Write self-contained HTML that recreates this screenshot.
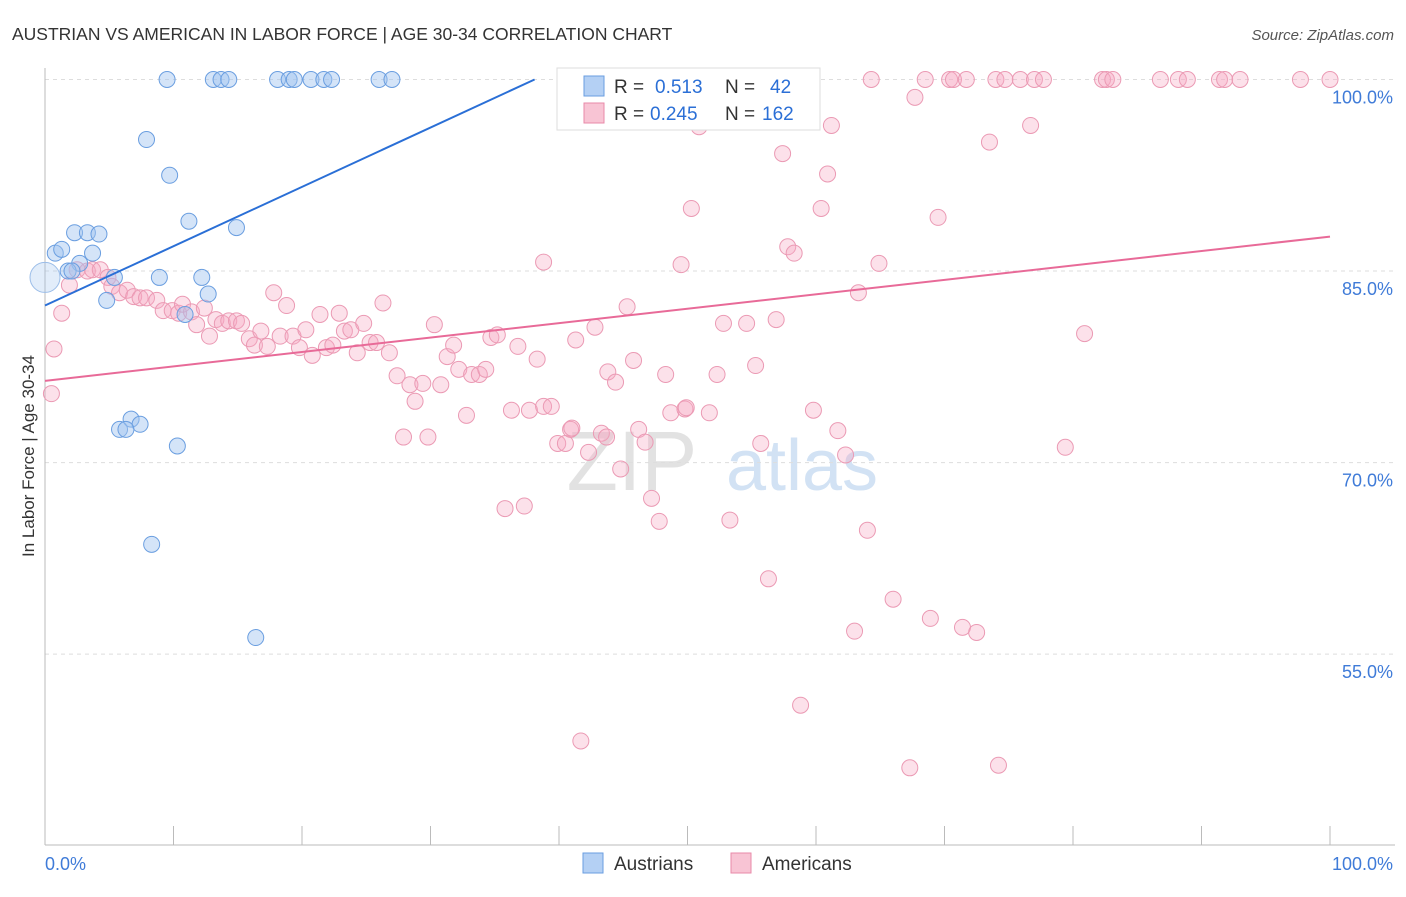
<!DOCTYPE html>
<html><head><meta charset="utf-8"><style>
body{margin:0;background:#fff;font-family:"Liberation Sans",sans-serif;}
svg text{font-family:"Liberation Sans",sans-serif;}
</style></head><body>
<svg id="chart" width="1406" height="892" xmlns="http://www.w3.org/2000/svg">
<text x="12" y="40" font-size="17.5" fill="#333">AUSTRIAN VS AMERICAN IN LABOR FORCE | AGE 30-34 CORRELATION CHART</text>
<text x="1394" y="40" font-size="15" fill="#555" font-style="italic" text-anchor="end">Source: ZipAtlas.com</text>
<text x="34" y="456" font-size="17" fill="#333" text-anchor="middle" transform="rotate(-90 34 456)">In Labor Force | Age 30-34</text>
<g><text x="632" y="490" font-size="84" fill="#e2e2e2" font-family="Liberation Serif" text-anchor="middle">ZIP</text><text x="802" y="490" font-size="72" fill="#d2e2f4" text-anchor="middle">atlas</text></g>
<g id="grid"></g><g id="axes"></g><g id="pts"></g><g id="trend"></g>
<g>
<rect x="557" y="68" width="263" height="62" fill="#fff" stroke="#ddd"/>
<rect x="584" y="76" width="20" height="20" fill="#b4d0f4" stroke="#6a9ee0"/>
<rect x="584" y="103" width="20" height="20" fill="#f8c4d4" stroke="#e88aa8"/>
<text x="614" y="93" font-size="19" fill="#333">R =</text>
<text x="655" y="93" font-size="19" fill="#2b6fd6">0.513</text>
<text x="725" y="93" font-size="19" fill="#333">N =</text>
<text x="770" y="93" font-size="19" fill="#2b6fd6">42</text>
<text x="614" y="120" font-size="19" fill="#333">R =</text>
<text x="650" y="120" font-size="19" fill="#2b6fd6">0.245</text>
<text x="725" y="120" font-size="19" fill="#333">N =</text>
<text x="762" y="120" font-size="19" fill="#2b6fd6">162</text>
</g>
<g>
<rect x="583" y="853" width="20" height="20" fill="#b4d0f4" stroke="#6a9ee0"/>
<text x="614" y="870" font-size="19" fill="#333">Austrians</text>
<rect x="731" y="853" width="20" height="20" fill="#f8c4d4" stroke="#e88aa8"/>
<text x="762" y="870" font-size="19" fill="#333">Americans</text>
</g>
</svg>
<script>
const blueX=[9.5,13.1,13.7,14.3,18.1,19.0,19.4,20.7,21.7,22.3,26.0,27.0,40.9,52.4,7.9,9.7,11.2,14.9,0.8,1.3,2.3,3.3,4.2,3.7,2.7,1.8,2.1,5.4,8.9,12.2,12.7,4.8,10.9,6.7,7.4,5.8,6.3,10.3,8.3,16.4];
const blueY=[100,100,100,100,100,100,100,100,100,100,100,100,100,100,95.3,92.5,88.9,88.4,86.4,86.7,88.0,88.0,87.9,86.4,85.6,85.0,85.0,84.5,84.5,84.5,83.2,82.7,81.6,73.4,73.0,72.6,72.6,71.3,63.6,56.3];
const pinkX=[54.1,59.1,64.3,68.5,70.4,70.7,71.7,74.0,74.7,75.9,77.0,77.7,82.3,82.6,83.1,86.8,88.2,88.9,91.4,91.8,93.0,97.7,100,
67.7,50.9,61.2,76.7,73.5,57.4,60.9,50.3,60.4,69.5,57.8,58.3,38.8,49.5,64.9,63.3,80.9,79.4,
0.7,0.5,1.3,1.9,2.5,3.3,3.7,4.3,4.9,5.2,5.8,6.4,6.9,7.4,7.9,8.7,9.2,9.9,10.4,10.7,11.4,11.8,12.4,12.8,13.3,13.8,14.3,14.9,15.3,15.9,16.3,16.8,17.3,17.8,18.3,18.8,19.3,19.8,20.3,20.8,21.4,21.9,22.4,22.9,23.3,23.8,24.3,24.8,25.3,25.8,26.3,26.8,27.4,27.9,28.4,28.8,29.4,29.8,30.3,30.8,31.3,31.8,32.2,32.8,33.2,33.8,34.3,34.7,35.2,35.8,36.3,36.8,37.3,37.7,38.3,38.8,39.4,39.9,40.5,40.9,41.3,41.7,42.3,42.8,43.3,43.8,44.4,44.8,45.3,45.8,46.2,46.7,47.2,47.8,48.3,48.7,49.8,51.7,52.3,52.8,53.3,54.6,55.3,55.7,56.3,56.9,58.8,59.8,61.7,62.3,63.0,64.0,66.0,67.3,68.9,71.4,72.5,74.2,43.7,41.0,49.9];
const pinkY=[100,100,100,100,100,100,100,100,100,100,100,100,100,100,100,100,100,100,100,100,100,100,100,
98.6,96.3,96.4,96.4,95.1,94.2,92.6,89.9,89.9,89.2,86.9,86.4,85.7,85.5,85.6,83.3,80.1,71.2,
78.9,75.4,81.7,83.9,85.1,85.0,85.1,85.1,84.5,83.8,83.3,83.5,83.0,82.9,82.9,82.7,81.9,81.9,81.7,82.4,81.8,80.8,82.1,79.9,81.2,80.9,81.1,81.1,80.9,79.7,79.2,80.3,79.1,83.3,79.9,82.3,79.9,79.0,80.4,78.4,81.6,79.0,79.2,81.7,80.3,80.4,78.6,80.9,79.4,79.4,82.5,78.6,76.8,72.0,76.1,74.8,76.2,72.0,80.8,76.1,78.3,79.2,77.3,73.7,76.9,76.9,77.3,79.8,80.0,66.4,74.1,79.1,66.6,74.1,78.1,74.4,74.4,71.5,71.5,72.6,79.6,48.2,70.8,80.6,72.3,77.1,76.3,69.5,82.2,78.0,72.6,71.6,67.2,65.4,76.9,73.9,74.2,73.9,76.9,80.9,65.5,80.9,77.6,71.5,60.9,81.2,51.0,74.1,72.5,70.6,56.8,64.7,59.3,46.1,57.8,57.1,56.7,46.3,72.0,72.7,74.3];
const yTicks=[100,85,70,55];
const yTickLabels=["100.0%","85.0%","70.0%","55.0%"];
const xTicks=[0,10,20,30,40,50,60,70,80,90,100];
const blueTrend=[[0,82.3],[38.1,100]];
const pinkTrend=[[0,76.4],[100,87.7]];
const X=v=>45+v*12.85, Y=v=>79.5+(100-v)*12.77;
const NS="http://www.w3.org/2000/svg";
function mk(t,a,p){const e=document.createElementNS(NS,t);for(const k in a)e.setAttribute(k,a[k]);document.getElementById(p).appendChild(e);return e;}
yTicks.forEach((t,i)=>{
 const l=mk('line',{x1:45,x2:1395,y1:Y(t),y2:Y(t),stroke:'#ddd','stroke-dasharray':'4,4'},'grid');
 
 
 const tx=mk('text',{x:1393,y:Y(t)+24,'font-size':18,fill:'#3f7bd8','text-anchor':'end'},'grid');
 tx.textContent=yTickLabels[i];
 
 
});
const ax=mk('line',{x1:45,x2:45,y1:68,y2:845,stroke:'#bbb'},'axes');


const bx=mk('line',{x1:45,x2:1395,y1:845,y2:845,stroke:'#bbb'},'axes');


xTicks.forEach(t=>{const l=mk('line',{x1:X(t),x2:X(t),y1:826,y2:845,stroke:'#bbb'},'axes');
 
 });
const x0=mk('text',{x:45,y:870,'font-size':18,fill:'#3f7bd8'},'axes');x0.textContent='0.0%';


const x1=mk('text',{x:1393,y:870,'font-size':18,fill:'#3f7bd8','text-anchor':'end'},'axes');x1.textContent='100.0%';


pinkX.forEach((v,i)=>{const c=mk('circle',{cx:X(v),cy:Y(pinkY[i]),r:8,fill:'rgba(245,170,195,0.35)',stroke:'#eb9ab4','stroke-width':1},'pts');
 
 });
blueX.forEach((v,i)=>{const c=mk('circle',{cx:X(v),cy:Y(blueY[i]),r:8,fill:'rgba(160,195,240,0.45)',stroke:'#6a9ee0','stroke-width':1},'pts');
 
 });
const big=mk('circle',{cx:X(0),cy:Y(84.5),r:15,fill:'rgba(160,195,240,0.3)',stroke:'#9bbde8'},'pts');


const bt=mk('line',{x1:X(blueTrend[0][0]),y1:Y(blueTrend[0][1]),x2:X(blueTrend[1][0]),y2:Y(blueTrend[1][1]),stroke:'#2a6fd6','stroke-width':2},'trend');


const pt=mk('line',{x1:X(pinkTrend[0][0]),y1:Y(pinkTrend[0][1]),x2:X(pinkTrend[1][0]),y2:Y(pinkTrend[1][1]),stroke:'#e86a98','stroke-width':2},'trend');


</script>
</body></html>
